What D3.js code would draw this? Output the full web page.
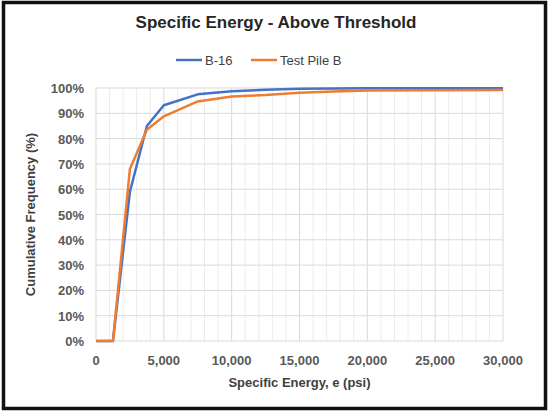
<!DOCTYPE html>
<html>
<head>
<meta charset="utf-8">
<script src="https://cdn.jsdelivr.net/npm/d3@7"></script>
<style>
  body { margin: 0; background: #fff; }
  text { font-family: "Liberation Sans", Arial, sans-serif; }
</style>
</head>
<body>
<svg id="chart" width="551" height="411"></svg>
<script>
// specific energy (psi) sample points
var energy = [0, 1250, 2500, 3750, 5000, 7500, 10000, 12500, 15000, 17500, 20000, 25000, 30000];
// cumulative frequency (%)
var b16 = [0, 0, 59, 85, 93.2, 97.5, 98.7, 99.3, 99.7, 99.8, 99.9, 99.9, 99.9];
var pileB = [0, 0, 68, 83.5, 88.8, 94.7, 96.6, 97.2, 98.1, 98.6, 99.0, 99.1, 99.2];
var seriesNames = ["B-16", "Test Pile B"];
var xTicks = [0, 5000, 10000, 15000, 20000, 25000, 30000];
var yTicks = [0, 10, 20, 30, 40, 50, 60, 70, 80, 90, 100];

var svg = d3.select("#chart"),
    width = +svg.attr("width"),
    height = +svg.attr("height");

var margin = {left: 96, right: 48, top: 88, bottom: 70};
var colors = ["#4472C4", "#ED7D31"];

var x = d3.scaleLinear().domain([0, 30000]).range([margin.left, width - margin.right]);
var y = d3.scaleLinear().domain([0, 100]).range([height - margin.bottom, margin.top]);

// frame
svg.append("rect")
    .attr("x", 3.5).attr("y", 2.5)
    .attr("width", width - 9).attr("height", height - 5)
    .attr("fill", "#fff")
    .attr("stroke", "#111")
    .attr("stroke-width", 3.5);

// minor vertical grid every 1000
svg.append("g").selectAll("line")
  .data(d3.range(0, 30001, 1000).filter(function(d) { return d % 5000 != 0; }))
  .enter().append("line")
    .attr("x1", function(d) { return x(d); })
    .attr("x2", function(d) { return x(d); })
    .attr("y1", y(0)).attr("y2", y(100))
    .attr("stroke", "#ececec");

// major grid
svg.append("g").selectAll("line")
  .data(xTicks)
  .enter().append("line")
    .attr("x1", function(d) { return x(d); })
    .attr("x2", function(d) { return x(d); })
    .attr("y1", y(0)).attr("y2", y(100))
    .attr("stroke", "#d9d9d9");

svg.append("g").selectAll("line")
  .data(yTicks)
  .enter().append("line")
    .attr("x1", x(0)).attr("x2", x(30000))
    .attr("y1", function(d) { return y(d); })
    .attr("y2", function(d) { return y(d); })
    .attr("stroke", "#d9d9d9");

// tick labels
var format = d3.format(",d");
svg.append("g").selectAll("text")
  .data(xTicks)
  .enter().append("text")
    .attr("x", function(d) { return x(d); })
    .attr("y", y(0) + 24)
    .attr("text-anchor", "middle")
    .attr("font-size", 13)
    .attr("font-weight", "bold")
    .attr("fill", "#595959")
    .text(function(d) { return format(d); });

svg.append("g").selectAll("text")
  .data(yTicks)
  .enter().append("text")
    .attr("x", x(0) - 12)
    .attr("y", function(d) { return y(d) + 5; })
    .attr("text-anchor", "end")
    .attr("font-size", 13)
    .attr("font-weight", "bold")
    .attr("fill", "#595959")
    .text(function(d) { return d + "%"; });

// lines
var line = d3.line()
    .x(function(d, i) { return x(energy[i]); })
    .y(function(d) { return y(d); });

[b16, pileB].forEach(function(s, i) {
  svg.append("path")
      .datum(s)
      .attr("fill", "none")
      .attr("stroke", colors[i])
      .attr("stroke-width", 2.5)
      .attr("stroke-linejoin", "round")
      .attr("d", line);
});

// title
svg.append("text")
    .attr("x", 276).attr("y", 28)
    .attr("text-anchor", "middle")
    .attr("font-size", 17)
    .attr("font-weight", "bold")
    .attr("fill", "#262626")
    .text("Specific Energy - Above Threshold");

// legend
var legend = svg.append("g").selectAll("g")
  .data(seriesNames)
  .enter().append("g")
    .attr("transform", function(d, i) { return "translate(" + [176, 251][i] + ",60)"; });
legend.append("line")
    .attr("x1", 0).attr("x2", 26)
    .attr("stroke", function(d, i) { return colors[i]; })
    .attr("stroke-width", 2.5);
legend.append("text")
    .attr("x", 29).attr("y", 5)
    .attr("font-size", 13)
    .attr("fill", "#404040")
    .text(function(d) { return d; });

// axis titles
svg.append("text")
    .attr("x", x(15000)).attr("y", 387)
    .attr("text-anchor", "middle")
    .attr("font-size", 13)
    .attr("font-weight", "bold")
    .attr("fill", "#404040")
    .text("Specific Energy, e (psi)");

svg.append("text")
    .attr("transform", "translate(35," + y(50) + ") rotate(-90)")
    .attr("text-anchor", "middle")
    .attr("font-size", 13)
    .attr("font-weight", "bold")
    .attr("fill", "#404040")
    .text("Cumulative Frequency (%)");
</script>
</body>
</html>
